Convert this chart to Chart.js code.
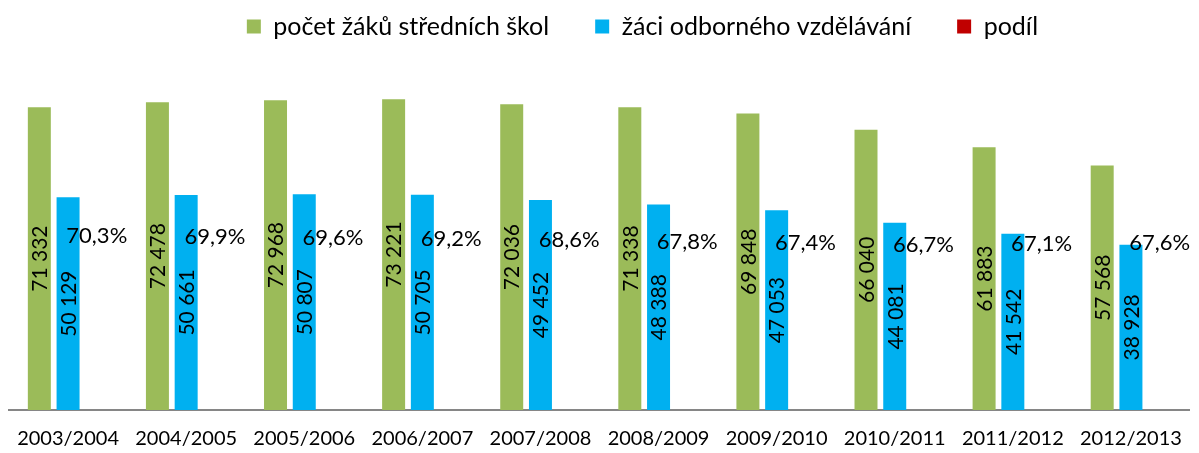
<!DOCTYPE html>
<html>
<head>
<meta charset="utf-8">
<script src="https://cdn.jsdelivr.net/npm/chart.js@4/dist/chart.umd.min.js"></script>
<style>
  html, body { margin: 0; padding: 0; background: #fff; }
  #wrap { width: 1199px; height: 453px; position: relative; }
</style>
</head>
<body>
<div id="wrap"><canvas id="chart"></canvas></div>
<script>
// data
const years = ['2003/2004', '2004/2005', '2005/2006', '2006/2007', '2007/2008',
               '2008/2009', '2009/2010', '2010/2011', '2011/2012', '2012/2013'];
const zaciSS = [71332, 72478, 72968, 73221, 72036, 71338, 69848, 66040, 61883, 57568];
const zaciOV = [50129, 50661, 50807, 50705, 49452, 48388, 47053, 44081, 41542, 38928];
const podil = [70.3, 69.9, 69.6, 69.2, 68.6, 67.8, 67.4, 66.7, 67.1, 67.6];

const GREEN = '#9BBB59', BLUE = '#00B0F0', RED = '#C00000';
const FAMILY = 'Lato, "Open Sans", sans-serif';
const TICK_FONT = { family: FAMILY, size: 20 };
const LEGEND_FONT = { family: FAMILY, size: 25 };
const LABEL_SIZE = 21;

const fmtNum = v => String(v).replace(/\B(?=(\d{3})+(?!\d))/g, ' ');
const fmtPct = v => v.toFixed(1).replace('.', ',') + '%';

// popisky hodnot (bez datalabels pluginu)
const valueLabels = {
  id: 'valueLabels',
  afterDatasetsDraw(chart) {
    const ctx = chart.ctx;
    ctx.save();
    ctx.fillStyle = '#000';
    ctx.textAlign = 'center';
    ctx.textBaseline = 'middle';
    chart.data.datasets.forEach((ds, di) => {
      const meta = chart.getDatasetMeta(di);
      meta.data.forEach((bar, i) => {
        const v = ds.data[i];
        if (di < 2) {
          ctx.font = `${LABEL_SIZE}px ${FAMILY}`;
          ctx.save();
          ctx.translate(bar.x, (bar.y + bar.base) / 2);
          ctx.rotate(-Math.PI / 2);
          ctx.fillText(fmtNum(v), 0, 1);
          ctx.restore();
        } else {
          ctx.font = `${LABEL_SIZE + 1}px ${FAMILY}`;
          ctx.fillText(fmtPct(v), bar.x, bar.y);
        }
      });
    });
    ctx.restore();
  }
};

// legenda je v originale posunuta doprava a nahoru
const legendShift = {
  id: 'legendShift',
  afterLayout(chart) {
    const lg = chart.legend;
    lg.left += 41; lg.right += 41;
    lg.top -= 32; lg.bottom -= 32;
  }
};

const legendColors = [GREEN, BLUE, RED];

new Chart(document.getElementById('chart'), {
  type: 'bar',
  data: {
    labels: years,
    datasets: [
      { label: 'počet žáků středních škol', data: zaciSS, backgroundColor: GREEN, yAxisID: 'y' },
      { label: 'žáci odborného vzdělávání', data: zaciOV, backgroundColor: BLUE, yAxisID: 'y' },
      { label: 'podíl', data: podil, backgroundColor: 'rgba(192,0,0,0)', yAxisID: 'y2' }
    ]
  },
  options: {
    responsive: true,
    maintainAspectRatio: false,
    animation: false,
    layout: { padding: { left: 8, right: 4, top: 0, bottom: -15 } },
    datasets: { bar: { barPercentage: 0.8, categoryPercentage: 0.73 } },
    plugins: {
      tooltip: { enabled: false },
      legend: {
        position: 'top',
        labels: {
          boxWidth: 14, boxHeight: 14, padding: 46,
          color: '#000', font: LEGEND_FONT,
          generateLabels: chart => {
            const items = Chart.defaults.plugins.legend.labels.generateLabels(chart);
            items.forEach((it, i) => { it.fillStyle = legendColors[i]; it.strokeStyle = legendColors[i]; it.lineWidth = 0; });
            return items;
          }
        }
      }
    },
    scales: {
      x: {
        grid: { display: false, drawTicks: false },
        border: { display: true, color: '#868686', width: 2 },
        ticks: { color: '#000', font: TICK_FONT, padding: 17, maxRotation: 0, autoSkip: false }
      },
      y: { display: false, min: 0, max: 77500 },
      y2: { display: false, min: 0, max: 133 }
    }
  },
  plugins: [valueLabels, legendShift]
});
</script>
</body>
</html>
